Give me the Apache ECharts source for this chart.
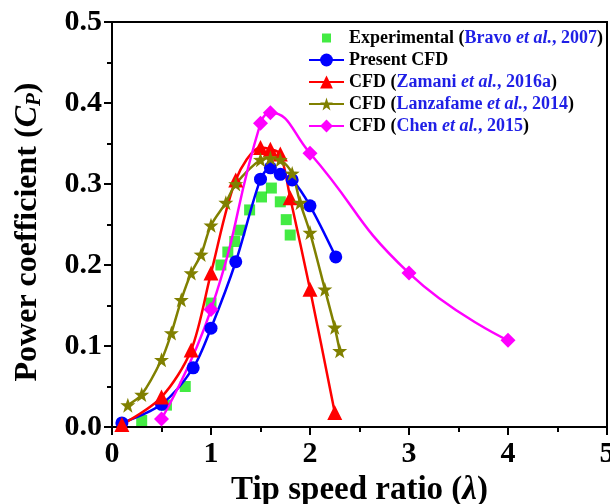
<!DOCTYPE html>
<html><head><meta charset="utf-8">
<script src="https://cdn.jsdelivr.net/npm/echarts@6/dist/echarts.min.js"></script>
<style>html,body{margin:0;padding:0;background:#fff}#c{width:610px;height:504px}</style>
</head><body><div id="c"></div>
<script>
const xTicks = [0, 1, 2, 3, 4, 5];
const yTicks = [0.0, 0.1, 0.2, 0.3, 0.4, 0.5];
const experimental = [[0.3,0.008],[0.55,0.027],[0.74,0.05],[1.0,0.153],[1.1,0.2],[1.17,0.216],[1.24,0.229],[1.29,0.243],[1.39,0.268],[1.51,0.284],[1.61,0.295],[1.7,0.278],[1.76,0.256],[1.8,0.237]];
const presentCFD = [[0.1,0.005],[0.5,0.028],[0.82,0.073],[1.0,0.122],[1.25,0.204],[1.5,0.306],[1.6,0.32],[1.7,0.312],[1.82,0.305],[2.0,0.273],[2.26,0.21]];
const zamani = [[0.1,0.003],[0.5,0.037],[0.8,0.095],[1.0,0.19],[1.25,0.305],[1.5,0.345],[1.6,0.343],[1.7,0.337],[1.8,0.283],[2.0,0.17],[2.25,0.018]];
const lanzafame = [[0.16,0.027],[0.3,0.04],[0.5,0.083],[0.6,0.116],[0.7,0.157],[0.8,0.19],[0.9,0.213],[1.0,0.249],[1.15,0.277],[1.25,0.3],[1.5,0.33],[1.6,0.332],[1.7,0.33],[1.82,0.313],[1.9,0.277],[2.0,0.24],[2.15,0.17],[2.25,0.123],[2.3,0.094]];
const chen = [[0.5,0.01],[1.0,0.145],[1.5,0.375],[1.6,0.388],[2.0,0.338],[3.0,0.19],[4.0,0.107]];

const FONT = 'Liberation Serif';
const legendLabels = {
  exp: 'Experimental ({b|Bravo }{bi|et al.}{b|, 2007})',
  pres: 'Present CFD',
  zam: 'CFD ({b|Zamani }{bi|et al.}{b|, 2016a})',
  lan: 'CFD ({b|Lanzafame }{bi|et al.}{b|, 2014})',
  chen: 'CFD ({b|Chen }{bi|et al.}{b|, 2015})'
};
const BLUE_TXT = '#1f1fe6';
const LFS = 18;
const STAR = 'path://M0,-10L2.35,-3.24L9.51,-3.09L3.8,1.24L5.88,8.09L0,4L-5.88,8.09L-3.8,1.24L-9.51,-3.09L-2.35,-3.24Z';
const SQUARE_ICON = 'path://M0,0L0.001,0Z M13,2.5L22,2.5L22,11.5L13,11.5Z M35,14L35.001,14Z';
function lineSeries(name, data, color, symbol, size, smooth) {
  return {
    name, type: 'line', data, smooth: smooth,
    symbol, symbolSize: size,
    lineStyle: { color, width: 2.5 },
    itemStyle: { color },
    z: 3
  };
}
const chart = echarts.init(document.getElementById('c'), null, { renderer: 'canvas' });
chart.setOption({
  animation: false,
  backgroundColor: '#fff',
  textStyle: { fontFamily: FONT },
  grid: { left: 112, right: 3, top: 22, bottom: 77, outerBoundsMode: 'none', containLabel: false, show: true, borderColor: '#000', borderWidth: 2, backgroundColor: 'transparent' },
  legend: {
    orient: 'vertical', left: 308, top: 29, padding: 0,
    itemWidth: 35, itemHeight: 16, itemGap: 4,
    data: [{ name: 'exp', icon: SQUARE_ICON }, 'pres', 'zam', 'lan', 'chen'],
    formatter: n => legendLabels[n],
    textStyle: {
      fontFamily: FONT, fontWeight: 'bold', fontSize: LFS, color: '#000', lineHeight: 17,
      rich: {
        b: { fontFamily: FONT, fontWeight: 'bold', fontSize: LFS, color: BLUE_TXT, lineHeight: 17 },
        bi: { fontFamily: FONT, fontWeight: 'bold', fontStyle: 'italic', fontSize: LFS, color: BLUE_TXT, lineHeight: 17 }
      }
    }
  },
  graphic: [{
    type: 'text', x: 28, y: 232, rotation: Math.PI / 2, silent: true,
    style: {
      text: 'Power coefficient ({i|C}{sub|P})',
      fontFamily: FONT, fontWeight: 'bold', fontSize: 32, fill: '#000',
      align: 'center', verticalAlign: 'middle',
      rich: {
        i: { fontFamily: FONT, fontWeight: 'bold', fontStyle: 'italic', fontSize: 32, fill: '#000' },
        sub: { fontFamily: FONT, fontWeight: 'bold', fontStyle: 'italic', fontSize: 21, fill: '#000', padding: [13, 0, 0, 0] }
      }
    }
  }],
  xAxis: {
    type: 'value', min: xTicks[0], max: xTicks[xTicks.length-1], interval: 1,
    name: 'Tip speed ratio ({i|λ})', nameLocation: 'middle', nameGap: 42,
    nameTextStyle: { fontFamily: FONT, fontWeight: 'bold', fontSize: 33, color: '#000',
      rich: { i: { fontFamily: FONT, fontWeight: 'bold', fontStyle: 'italic', fontSize: 33, color: '#000' } } },
    axisLine: { show: true, lineStyle: { color: '#000', width: 2 } },
    axisTick: { show: true, length: 8, lineStyle: { color: '#000', width: 2 } },
    minorTick: { show: true, splitNumber: 2, length: 5, lineStyle: { color: '#000', width: 2 } },
    splitLine: { show: false },
    axisLabel: { margin: 12, fontFamily: FONT, fontWeight: 'bold', fontSize: 30, color: '#000' }
  },
  yAxis: {
    type: 'value', min: yTicks[0], max: yTicks[yTicks.length-1], interval: 0.1,
    axisLine: { show: true, lineStyle: { color: '#000', width: 2 } },
    axisTick: { show: true, length: 8, lineStyle: { color: '#000', width: 2 } },
    minorTick: { show: true, splitNumber: 2, length: 5, lineStyle: { color: '#000', width: 2 } },
    splitLine: { show: false },
    axisLabel: { margin: 10, fontFamily: FONT, fontWeight: 'bold', fontSize: 30, color: '#000', formatter: v => v.toFixed(1) }
  },
  series: [
    { name: 'exp', type: 'scatter', data: experimental, symbol: 'rect', symbolSize: 11, itemStyle: { color: '#14e614' }, z: 2 },
    lineSeries('pres', presentCFD, '#0000ff', 'circle', 13, 0.3),
    lineSeries('zam', zamani, '#ff0000', 'triangle', 15, 0.3),
    lineSeries('lan', lanzafame, '#808000', STAR, 15, 0.3),
    lineSeries('chen', chen, '#ff00ff', 'diamond', 15, 0.5)
  ]
});
</script></body></html>
